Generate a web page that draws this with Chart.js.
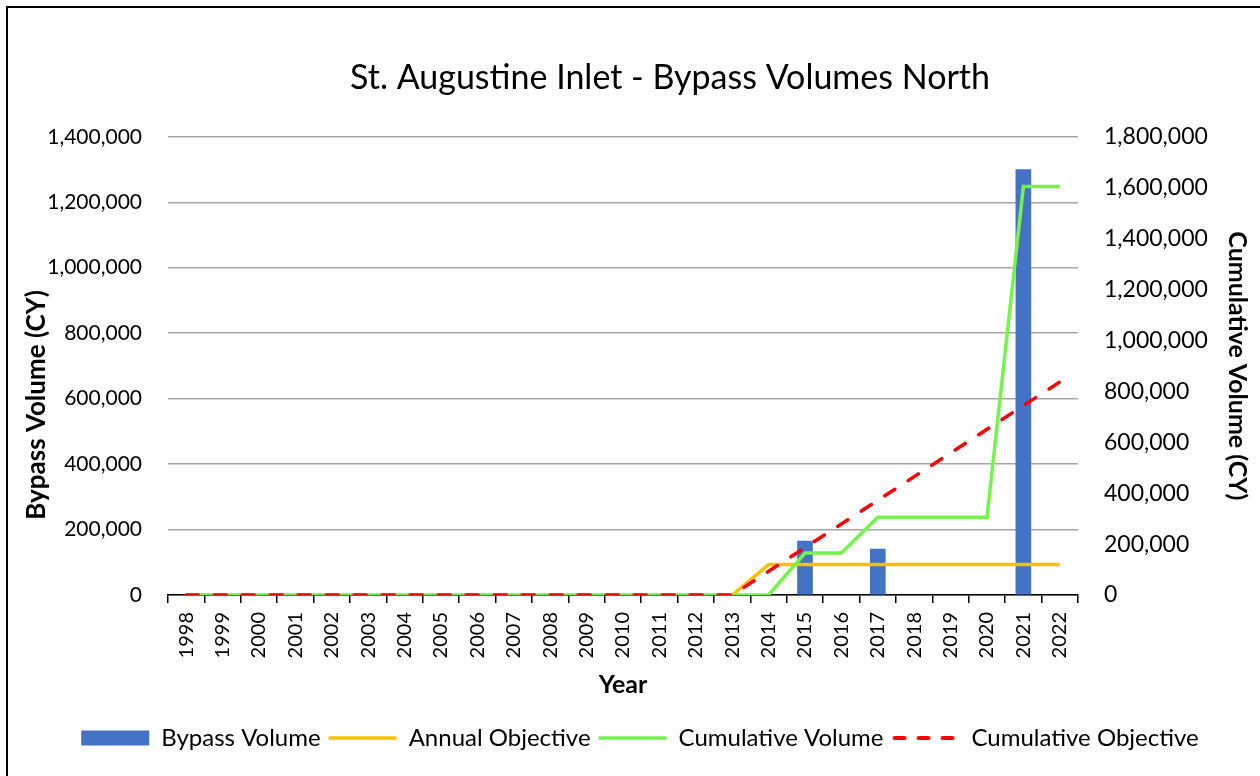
<!DOCTYPE html>
<html>
<head>
<meta charset="utf-8">
<script src="https://cdn.jsdelivr.net/npm/chart.js@4.4.1/dist/chart.umd.min.js"></script>
<style>
  html, body { margin: 0; padding: 0; background: #fff; overflow: hidden; }
  #wrap { position: relative; width: 1260px; height: 776px; }
  #frame { position: absolute; left: 6px; top: 6px; width: 1400px; height: 900px;
           border-left: 2px solid #000; border-top: 2px solid #000; pointer-events: none; }
  canvas { position: absolute; left: 0; top: 0; }
</style>
</head>
<body>
<div id="wrap">
  <canvas id="c" width="1260" height="776"></canvas>
  <div id="frame"></div>
</div>
<script>
const years = ['1998','1999','2000','2001','2002','2003','2004','2005','2006','2007','2008','2009','2010',
               '2011','2012','2013','2014','2015','2016','2017','2018','2019','2020','2021','2022'];
const bypassVolume = [null,null,null,null,null,null,null,null,null,null,null,null,null,
                      null,null,null,null,165000,null,140000,null,null,null,1300000,null];
const annualObjective = [0,0,0,0,0,0,0,0,0,0,0,0,0,0,0,0,
                         93000,93000,93000,93000,93000,93000,93000,93000,93000];
const cumulativeVolume = [0,0,0,0,0,0,0,0,0,0,0,0,0,0,0,0,0,
                          165000,165000,305000,305000,305000,305000,1605000,1605000];
const cumulativeObjective = [0,0,0,0,0,0,0,0,0,0,0,0,0,0,0,0,
                             93000,186000,279000,372000,465000,558000,651000,744000,837000];
const leftTicks = [0,200000,400000,600000,800000,1000000,1200000,1400000];
const rightTicks = [0,200000,400000,600000,800000,1000000,1200000,1400000,1600000,1800000];
const leftAxisTitle = 'Bypass Volume (CY)';

const FONT = 'Lato, "Open Sans", "DejaVu Sans", sans-serif';
const fmt = v => Number(v).toLocaleString('en-US');

// legend sample for the dashed series
function dashedSample(color, w, lw, dash) {
  const c = document.createElement('canvas');
  c.width = w; c.height = 8;
  const g = c.getContext('2d');
  g.strokeStyle = color; g.lineWidth = lw; g.lineCap = 'round';
  g.setLineDash(dash);
  g.beginPath(); g.moveTo(3, 4); g.lineTo(w, 4); g.stroke();
  return c;
}
const LEG_W = 68;

const shiftPlugin = {
  id: 'shiftBlocks',
  afterLayout(chart) {
    if (chart.titleBlock) { chart.titleBlock.left += 40; chart.titleBlock.right += 40; }
    if (chart.legend) { chart.legend.left += 10; chart.legend.right += 10; }
  }
};

// left axis title, placed a little below the plot's middle as in the reference
const leftTitlePlugin = {
  id: 'leftTitle',
  afterDraw(chart) {
    const ctx = chart.ctx;
    const area = chart.chartArea;
    ctx.save();
    ctx.translate(37, (area.top + area.bottom) / 2 + 39);
    ctx.rotate(-Math.PI / 2);
    ctx.font = 'bold 26px ' + FONT;
    ctx.fillStyle = '#000';
    ctx.textAlign = 'center';
    ctx.textBaseline = 'middle';
    ctx.fillText(leftAxisTitle, 0, 0);
    ctx.restore();
  }
};

new Chart(document.getElementById('c'), {
  data: {
    labels: years,
    datasets: [
      { type: 'bar', label: 'Bypass Volume', data: bypassVolume, yAxisID: 'y',
        backgroundColor: '#4472C4', borderWidth: 0, barThickness: 15, order: 4, pointStyle: 'rect' },
      { type: 'line', label: 'Annual Objective', data: annualObjective, yAxisID: 'y',
        borderColor: '#FFC000', backgroundColor: '#FFC000', borderWidth: 3.5, pointRadius: 0,
        tension: 0, order: 3, pointStyle: 'line' },
      { type: 'line', label: 'Cumulative Volume', data: cumulativeVolume, yAxisID: 'y1',
        borderColor: '#74F54B', backgroundColor: '#74F54B', borderWidth: 3.5, pointRadius: 0,
        tension: 0, order: 2, pointStyle: 'line' },
      { type: 'line', label: 'Cumulative Objective', data: cumulativeObjective, yAxisID: 'y1',
        borderColor: '#FF0000', backgroundColor: '#FF0000', borderWidth: 3.5, pointRadius: 0,
        borderDash: [12, 16], borderCapStyle: 'round', tension: 0, order: 1,
        pointStyle: dashedSample('#FF0000', LEG_W, 4, [10, 14]) }
    ]
  },
  plugins: [shiftPlugin, leftTitlePlugin],
  options: {
    responsive: false,
    animation: false,
    layout: { padding: { left: 0, right: 0, top: 0, bottom: 16 } },
    plugins: {
      title: { display: true, text: 'St. Augustine Inlet - Bypass Volumes North', color: '#000',
               font: { family: FONT, size: 34, weight: 'normal', lineHeight: 1.2 },
               padding: { top: 58, bottom: 38 } },
      legend: { position: 'bottom', align: 'center',
                labels: { color: '#000', font: { family: FONT, size: 24 }, boxWidth: LEG_W, boxHeight: 15,
                          usePointStyle: true, pointStyleWidth: LEG_W, padding: 8,
                          sort: (a, b) => a.datasetIndex - b.datasetIndex } },
      tooltip: { enabled: false }
    },
    scales: {
      x: { type: 'category', offset: true,
           grid: { display: true, offset: true, drawOnChartArea: false, drawTicks: true, tickLength: 8,
                   color: '#000', lineWidth: 1.5 },
           border: { display: true, color: '#000', width: 1.5 },
           ticks: { color: '#000', font: { family: FONT, size: 20 }, minRotation: 90, maxRotation: 90,
                    autoSkip: false, padding: 9 },
           title: { display: true, text: 'Year', color: '#000',
                    font: { family: FONT, size: 25, weight: 'bold', lineHeight: 1.2 },
                    padding: { top: 0, bottom: 18 } },
           afterFit: s => { s.height = 123; } },
      y: { type: 'linear', position: 'left', min: 0, max: 1400000,
           afterBuildTicks: s => { s.ticks = leftTicks.map(v => ({ value: v })); },
           grid: { color: '#A6A6A6', lineWidth: 1.5, drawTicks: false },
           border: { display: false },
           ticks: { color: '#000', font: { family: FONT, size: 21 }, padding: 26, callback: v => fmt(v) },
           title: { display: false },
           afterFit: s => { s.width = 168; } },
      y1: { type: 'linear', position: 'right', min: 0, max: 1800000,
            afterBuildTicks: s => { s.ticks = rightTicks.map(v => ({ value: v })); },
            grid: { display: false, drawTicks: false },
            border: { display: false },
            ticks: { color: '#000', font: { family: FONT, size: 23 }, padding: 26, callback: v => fmt(v) },
            title: { display: true, text: 'Cumulative Volume (CY)', color: '#000',
                     font: { family: FONT, size: 25, weight: 'bold', lineHeight: 1.2 },
                     padding: { top: 8, bottom: 0 } },
            afterFit: s => { s.width = 182; } }
    }
  }
});
</script>
</body>
</html>
